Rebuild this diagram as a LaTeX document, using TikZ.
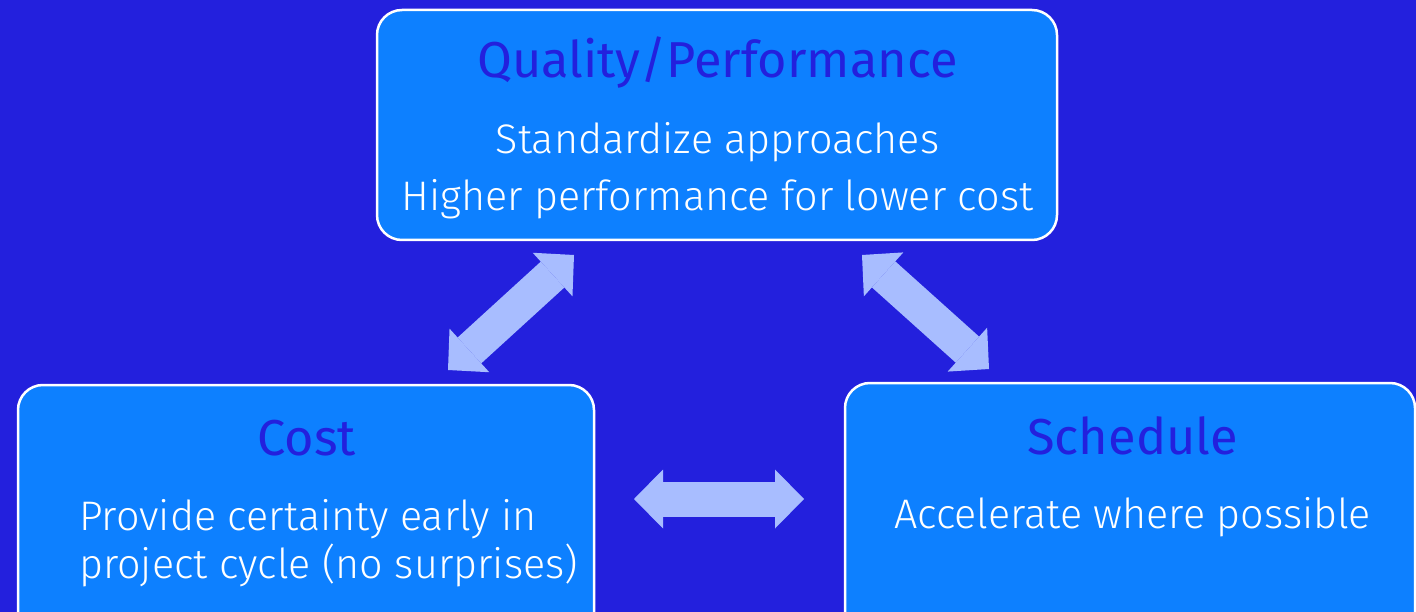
\documentclass[tikz,border=0pt]{standalone}
\usepackage{fontspec}
\setmainfont{Fira Sans Light}
\newfontfamily\titlefont{Fira Sans}
\usetikzlibrary{arrows.meta}
\definecolor{bg}{RGB}{35,32,221}
\definecolor{boxfill}{RGB}{13,128,255}
\definecolor{arrowc}{RGB}{168,189,255}
\tikzset{
  panel/.style={draw=white, line width=2.5pt, fill=boxfill, rounded corners=25pt, inner sep=0pt},
  ttl/.style={text=bg, font=\titlefont\fontsize{50.5}{56}\selectfont, anchor=base, inner sep=0pt},
  body/.style={text=white, font=\fontsize{41.3}{48}\selectfont, anchor=base, inner sep=0pt},
  bodyleft/.style={body, anchor=base west},
  blockarrow/.style={draw=arrowc, line width=35pt,
    {Triangle[length=29pt,width=59pt,line width=0pt]}-{Triangle[length=29pt,width=59pt,line width=0pt]}}
}
\begin{document}
\begin{tikzpicture}[x=1pt,y=-1pt]
\fill[bg] (0,0) rectangle (1416,612);
\useasboundingbox (0,0) rectangle (1416,612);
\begin{scope}
\clip (0,0) rectangle (1416,612);
\node[panel, minimum width=680pt, minimum height=230pt] (qp) at (717,125) {};
\node[panel, minimum width=576pt, minimum height=260pt] (cost) at (306,515) {};
\node[panel, minimum width=570pt, minimum height=260pt] (sched) at (1130,513) {};
\end{scope}
\node[ttl] (qpt) at (717.5,78) {Quality/Performance};
\node[body] (qp1) at (717.5,154) {Standardize approaches};
\node[body] (qp2) at (717.5,211) {Higher performance for lower cost};
\node[ttl] (costt) at (306.5,455) {Cost};
\node[bodyleft] (cost1) at (79,530) {Provide certainty early in};
\node[bodyleft] (cost2) at (79,578) {project cycle (no surprises)};
\node[ttl] (schedt) at (1132.5,454) {Schedule};
\node[body] (sched1) at (1132.5,528) {Accelerate where possible};
\coordinate (l1) at (448,370);
\coordinate (l2) at (574,255);
\coordinate (r1) at (862,255);
\coordinate (r2) at (989,369);
\coordinate (h1) at (634,499);
\coordinate (h2) at (804,499);
\draw[blockarrow] (l1) -- (l2);
\draw[blockarrow] (r1) -- (r2);
\draw[blockarrow] (h1) -- (h2);
\end{tikzpicture}
\end{document}
